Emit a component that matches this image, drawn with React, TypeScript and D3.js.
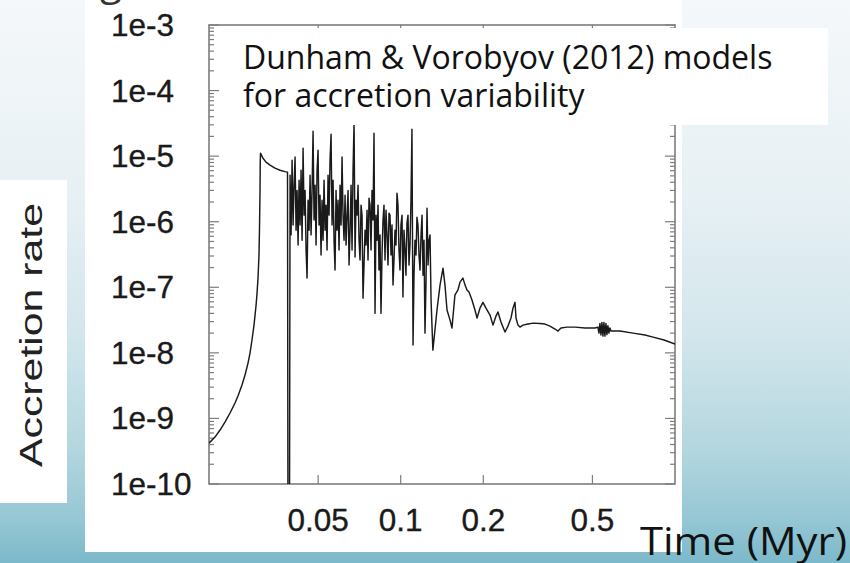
import React from "react";
import * as d3 from "d3";

// ---------- data ----------
const timeMyr = [
  // initial rise
  0.02, 0.02103, 0.02194, 0.02287, 0.02386, 0.02488, 0.02551, 0.02638, 0.02706, 0.02775,
  0.02822, 0.02869, 0.02918, 0.02967, 0.02992, 0.03018, 0.03043, 0.03056, 0.03069, 0.03075, 0.03082,
  // decay + drop
  0.03147, 0.03227, 0.03338, 0.03481, 0.0363, 0.03786, 0.03866, 0.03882, 0.0393,
  // dense burst region
  0.0395, 0.03983, 0.04017, 0.04051, 0.04085, 0.04119, 0.04154, 0.04189, 0.04225, 0.0426,
  0.04296, 0.04332, 0.04369, 0.04406, 0.04443, 0.0448, 0.04518, 0.04556, 0.04594, 0.04633,
  0.04672, 0.04711, 0.04751, 0.04791, 0.04831, 0.04872, 0.04913, 0.04954, 0.04996, 0.05038,
  0.0508, 0.05123, 0.05166, 0.0521, 0.05254, 0.05298, 0.05343, 0.05388, 0.05433, 0.05479,
  0.05525, 0.05572, 0.05619, 0.05666, 0.05714, 0.05762, 0.0581, 0.05859, 0.05909, 0.05959,
  0.06009, 0.0606, 0.06111, 0.06162, 0.06214, 0.06267,
  // later burst region
  0.0632, 0.06373, 0.06427, 0.06481, 0.06536, 0.06591, 0.06646, 0.06702, 0.06759, 0.06816,
  0.06873, 0.06931, 0.06989, 0.07048, 0.07107, 0.07167, 0.07227, 0.07288, 0.07349, 0.07411,
  0.07474, 0.07537, 0.076, 0.07664, 0.07729, 0.07794, 0.07859, 0.07925, 0.07992, 0.0806,
  0.08128, 0.08196, 0.08265, 0.08334, 0.08404, 0.08475, 0.08546, 0.08619, 0.08691, 0.08765,
  0.08838, 0.08913, 0.08988, 0.09064, 0.0914, 0.09217, 0.09294, 0.09373, 0.09452, 0.09531,
  0.09611, 0.09692, 0.09774, 0.09856, 0.09939, 0.1002, 0.1011, 0.1019, 0.1028, 0.1037,
  0.1045, 0.1054, 0.1063, 0.1072, 0.1081, 0.109, 0.1099, 0.1109, 0.1118, 0.1127,
  0.1137, 0.1146, 0.1156, 0.1166, 0.1176, 0.1186, 0.1196, 0.1206, 0.1216, 0.1226,
  0.1237, 0.1247, 0.1258, 0.1268, 0.1279, 0.129,
  // damped oscillations
  0.131, 0.1333, 0.1356, 0.1391, 0.1426, 0.145, 0.1475, 0.1513, 0.1538, 0.1576,
  0.1617, 0.1645, 0.1686, 0.1716, 0.1744, 0.1774, 0.1819, 0.1865, 0.1898, 0.1945,
  0.1995, 0.2046, 0.2116, 0.217, 0.2225, 0.2262, 0.232, 0.24, 0.2461, 0.2524,
  0.2566, 0.261, 0.2632, 0.2676, 0.2722, 0.279,
  // quiescent phase
  0.2911, 0.304, 0.3219, 0.3358, 0.35, 0.3652, 0.3745, 0.384, 0.404, 0.432,
  0.47, 0.511, 0.5236, 0.528, 0.5325, 0.537, 0.5415, 0.546, 0.5506, 0.5553,
  0.56, 0.5647, 0.5694, 0.5742, 0.579, 0.5839, 0.63, 0.703, 0.7774, 0.832,
  0.912, 1.0,
];

const accretionRate = [
  4.2e-10, 5.2e-10, 6.65e-10, 8.8e-10, 1.21e-9, 1.72e-9, 2.2e-9, 3.23e-9, 4.59e-9, 6.99e-9,
  9.93e-9, 1.57e-8, 2.65e-8, 5.17e-8, 7.87e-8, 1.38e-7, 3.1e-7, 7.98e-7, 2.83e-6, 8.1e-6, 1.11e-5,
  9.3e-6, 8.1e-6, 7.3e-6, 6.56e-6, 6.1e-6, 5.8e-6, 5.7e-6, 1e-11, 1e-11,
  5.1e-6, 6.3e-7, 8.7e-6, 8.9e-7, 3.6e-6, 9.7e-6, 7.4e-7, 3.0e-6, 4.4e-7, 4.3e-6,
  8.9e-7, 6.1e-6, 5.2e-7, 1.32e-5, 1.26e-6, 3.0e-6, 3.7e-7, 1.38e-7, 2.13e-6, 7.4e-7,
  5.1e-6, 6.3e-7, 3.0e-6, 2.4e-5, 1.06e-6, 3.6e-6, 4.4e-7, 6.1e-6, 1.23e-5, 8.9e-7,
  2.54e-6, 3.1e-7, 2.13e-6, 5.2e-7, 4.3e-6, 7.4e-7, 1.79e-6, 3.7e-7, 5.1e-6, 1.26e-6,
  8.7e-6, 2.16e-5, 8.9e-7, 4.3e-6, 5.2e-7, 1.83e-7, 3.0e-6, 7.4e-7, 2.13e-6, 3.7e-7,
  3.6e-6, 8.9e-7, 9.7e-6, 1.26e-6, 5.2e-7, 2.54e-6,
  4.4e-7, 1.26e-6, 3.0e-6, 2.18e-7, 7.4e-7, 3.6e-6, 3.7e-7, 6.1e-6, 3.3e-5, 2.9e-7,
  2.13e-6, 1.26e-6, 3.6e-6, 5.2e-7, 2.6e-7, 1.79e-6, 1.26e-6, 6.8e-8, 2.18e-7, 7.4e-7,
  4.4e-7, 1.5e-6, 2.6e-7, 2.29e-6, 1.79e-6, 3.7e-7, 3.0e-6, 1.06e-6, 2.24e-5, 4.0e-8,
  1.26e-6, 5.2e-7, 1.79e-6, 1.83e-7, 6.3e-7, 4.0e-8, 3.1e-7, 1.06e-6, 1.79e-6, 2.6e-7,
  1.5e-6, 6.3e-7, 2.18e-7, 1.35e-6, 1.26e-6, 3.1e-7, 8.9e-7, 1.08e-7, 2.6e-7, 7.4e-7,
  4.4e-7, 2.73e-6, 1.79e-6, 3.7e-7, 1.83e-7, 8.9e-7, 1.26e-6, 7.1e-8, 7.4e-7, 3.7e-7,
  1.53e-7, 9.5e-7, 1.26e-6, 2.18e-7, 4.4e-7, 2.13e-6, 2.58e-5, 1.32e-8, 1.53e-7, 5.2e-7,
  3.1e-7, 1.17e-6, 8.9e-7, 3.1e-7, 1.83e-7, 6.3e-7, 1.26e-6, 1.53e-7, 5.2e-7, 2.0e-8,
  1.29e-7, 1.61e-6, 2.18e-7, 5.2e-7, 6.3e-7, 6.4e-8,
  1.1e-8, 2.23e-8, 4.5e-8, 1.08e-7, 1.96e-7, 1.08e-7, 4.5e-8, 3.16e-8, 2.39e-8, 7.6e-8,
  9.1e-8, 1.2e-7, 1.38e-7, 1.08e-7, 9.1e-8, 8.45e-8, 6.4e-8, 4.5e-8, 3.4e-8, 4.8e-8,
  5.9e-8, 4.8e-8, 3.77e-8, 2.65e-8, 3.64e-8, 4.2e-8, 2.95e-8, 2.08e-8, 2.56e-8, 3.4e-8,
  4.8e-8, 5.9e-8, 3.4e-8, 2.65e-8, 2.47e-8, 2.65e-8,
  2.75e-8, 2.84e-8, 2.8e-8, 2.75e-8, 2.56e-8, 2.31e-8, 2.15e-8, 2.39e-8, 2.47e-8, 2.47e-8,
  2.39e-8, 2.39e-8, 2.47e-8, 2.0e-8, 2.8e-8, 1.87e-8, 2.9e-8, 1.8e-8, 2.9e-8, 1.8e-8,
  2.8e-8, 1.9e-8, 2.6e-8, 2.0e-8, 2.4e-8, 2.15e-8, 2.15e-8, 2.0e-8, 1.87e-8, 1.74e-8,
  1.57e-8, 1.36e-8,
];

const yTickValues = [1e-3, 1e-4, 1e-5, 1e-6, 1e-7, 1e-8, 1e-9, 1e-10];
const yTickLabels = ["1e-3", "1e-4", "1e-5", "1e-6", "1e-7", "1e-8", "1e-9", "1e-10"];
const xTickValues = [0.05, 0.1, 0.2, 0.5];
const xTickLabels = ["0.05", "0.1", "0.2", "0.5"];
const noteLines = ["Dunham & Vorobyov (2012) models", "for accretion variability"];
const yAxisTitle = "Accretion rate";
const xAxisTitle = "Time (Myr)";
const titleFragment = "g";

export default function App() {
  const W = 850;
  const H = 563;
  const plot = { left: 209, right: 675, top: 25, bottom: 484 };

  const x = d3.scaleLog().domain([0.02, 1]).range([plot.left, plot.right]);
  const y = d3.scaleLog().domain([1e-10, 1e-3]).range([plot.bottom, plot.top]);

  const series = timeMyr.map((t, i) => ({ t, v: accretionRate[i] }));
  const line = d3
    .line<{ t: number; v: number }>()
    .x((d) => x(d.t))
    .y((d) => y(d.v));

  const allYTicks = y.ticks();
  const isMajor = (v: number) => Math.abs(Math.log10(v) - Math.round(Math.log10(v))) < 1e-6;

  const axisColor = "#7d7d7d";
  const labelFont = "'Liberation Sans', Arial, Helvetica, sans-serif";
  const slideFont = "'Open Sans', 'Noto Sans', sans-serif";

  return (
    <svg
      width={W}
      height={H}
      style={{ position: "absolute", left: 0, top: 0, display: "block" }}
    >
      <defs>
        <linearGradient id="bg" x1="0" y1="0" x2="0" y2="1">
          <stop offset="0" stopColor="#f5f8fa" />
          <stop offset="0.35" stopColor="#e7f0f4" />
          <stop offset="0.6" stopColor="#d2e6ec" />
          <stop offset="0.8" stopColor="#b3d6df" />
          <stop offset="0.92" stopColor="#96c7d4" />
          <stop offset="1" stopColor="#7cb9ca" />
        </linearGradient>
        <clipPath id="plotClip">
          <rect
            x={plot.left}
            y={plot.top}
            width={plot.right - plot.left}
            height={plot.bottom - plot.top}
          />
        </clipPath>
      </defs>

      <rect x={0} y={0} width={W} height={H} fill="url(#bg)" />

      {/* white panels */}
      <rect x={85} y={0} width={597} height={552} fill="#ffffff" />
      <rect x={0} y={180} width={67} height={323} fill="#ffffff" />

      {/* cut-off slide title fragment */}
      <text x={100} y={-5} fontFamily={slideFont} fontSize={40} fill="#333333">
        {titleFragment}
      </text>

      {/* y axis title */}
      <text
        transform={`translate(42, 335) rotate(-90)`}
        textAnchor="middle"
        fontFamily={labelFont}
        fontSize={32}
        fill="#222222"
        textLength={264}
        lengthAdjust="spacingAndGlyphs"
      >
        {yAxisTitle}
      </text>

      {/* frame */}
      <rect
        x={plot.left}
        y={plot.top}
        width={plot.right - plot.left}
        height={plot.bottom - plot.top}
        fill="none"
        stroke={axisColor}
        strokeWidth={1.6}
      />

      {/* y ticks left & right */}
      {allYTicks.map((v, i) => {
        const len = isMajor(v) ? 10 : 5;
        const yy = y(v);
        return (
          <g key={`yt${i}`} stroke={axisColor} strokeWidth={1.2}>
            <line x1={plot.left} x2={plot.left + len} y1={yy} y2={yy} />
            <line x1={plot.right} x2={plot.right - len} y1={yy} y2={yy} />
          </g>
        );
      })}

      {/* x ticks bottom & top */}
      {xTickValues.map((v, i) => (
        <g key={`xt${i}`} stroke={axisColor} strokeWidth={1.2}>
          <line x1={x(v)} x2={x(v)} y1={plot.bottom} y2={plot.bottom - 9} />
          <line x1={x(v)} x2={x(v)} y1={plot.top} y2={plot.top + 9} />
        </g>
      ))}

      {/* data */}
      <g clipPath="url(#plotClip)">
        <path
          d={line(series) || ""}
          fill="none"
          stroke="#1a1a1a"
          strokeWidth={1.45}
          strokeLinejoin="round"
        />
      </g>

      {/* y tick labels */}
      {yTickValues.map((v, i) => (
        <text
          key={`yl${i}`}
          x={111}
          y={y(v) + 11}
          fontFamily={labelFont}
          fontSize={31.5}
          fill="#1a1a1a"
          stroke="#1a1a1a"
          strokeWidth={0.35}
        >
          {yTickLabels[i]}
        </text>
      ))}

      {/* x tick labels */}
      {xTickValues.map((v, i) => (
        <text
          key={`xl${i}`}
          x={x(v)}
          y={531}
          textAnchor="middle"
          fontFamily={labelFont}
          fontSize={31.5}
          fill="#1a1a1a"
          stroke="#1a1a1a"
          strokeWidth={0.35}
        >
          {xTickLabels[i]}
        </text>
      ))}

      {/* note box */}
      <rect x={232} y={28} width={596} height={97} fill="#ffffff" />
      {noteLines.map((s, i) => (
        <text
          key={`n${i}`}
          x={243}
          y={69 + i * 38}
          fontFamily={slideFont}
          fontSize={32}
          fill="#111111"
        >
          {s}
        </text>
      ))}

      {/* x axis title */}
      <text
        x={640}
        y={555}
        fontFamily={slideFont}
        fontSize={39}
        fill="#111111"
        textLength={207}
        lengthAdjust="spacingAndGlyphs"
      >
        {xAxisTitle}
      </text>
    </svg>
  );
}
